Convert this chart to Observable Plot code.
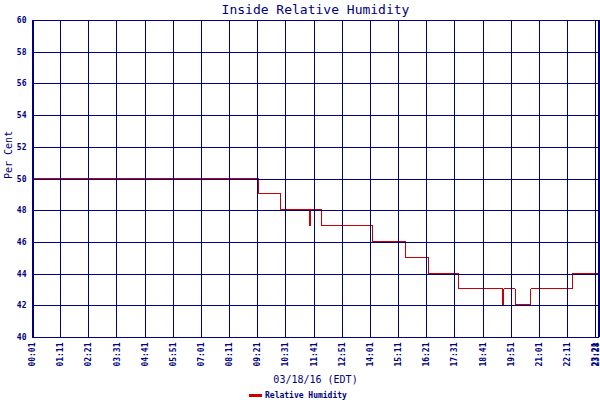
<!DOCTYPE html>
<html>
<head>
<meta charset="utf-8">
<script src="https://cdn.jsdelivr.net/npm/d3@7"></script>
<script src="https://cdn.jsdelivr.net/npm/@observablehq/plot@0.6"></script>
<style>
  html, body { margin: 0; padding: 0; background: #fff; }
  #chart svg { shape-rendering: crispEdges; }
  #chart svg text { shape-rendering: auto; }
</style>
</head>
<body>
<div id="chart"></div>
<script>
// ---- Data ----
const times  = ["00:01","09:22","10:18","11:30","11:33","12:00","14:07","15:27","16:25","17:41","19:30","19:33","20:01","20:40","22:24","23:28"];
const values = [50, 49, 48, 47, 48, 47, 46, 45, 44, 43, 42, 43, 42, 43, 44, 44];

const xTickLabels = ["00:01","01:11","02:21","03:31","04:41","05:51","07:01","08:11","09:21","10:31","11:41","12:51","14:01","15:11","16:21","17:31","18:41","19:51","21:01","22:11","23:21"];
const xEndLabel = "23:28";
const yTicks = [40, 42, 44, 46, 48, 50, 52, 54, 56, 58, 60];

const title = "Inside Relative Humidity";
const yLabel = "Per Cent";
const xLabel = "03/18/16 (EDT)";
const seriesName = "Relative Humidity";

// ---- Helpers ----
const toMin = s => { const [h, m] = s.split(":").map(Number); return h * 60 + m; };
const fmt = m => String(Math.floor(m / 60)).padStart(2, "0") + ":" + String(m % 60).padStart(2, "0");

const data = times.map((t, i) => ({t: toMin(t), v: values[i]}));
const xTicks = xTickLabels.map(toMin);
const xEnd = toMin(xEndLabel);
const xDomain = [xTicks[0], xEnd];

const navy = "#000080";
const red = "#c80000";

const tickStyle = {tickSize: 0, tickPadding: 5, tickRotate: -90, tickFormat: fmt, fontSize: 8, fontWeight: "bold", fill: navy, label: null};

const chart = Plot.plot({
  width: 600,
  height: 400,
  marginLeft: 32,
  marginRight: 2,
  marginTop: 20,
  marginBottom: 63,
  style: {fontFamily: "'DejaVu Sans Mono', monospace", color: navy, background: "white"},
  x: {type: "linear", domain: xDomain},
  y: {domain: [40, 60]},
  marks: [
    Plot.line(data, {x: "t", y: "v", curve: "step-after", stroke: red, strokeWidth: 1, dy: -1}),
    Plot.gridX(xTicks, {stroke: navy, strokeOpacity: 1, strokeWidth: 1}),
    Plot.gridY(yTicks, {stroke: navy, strokeOpacity: 1, strokeWidth: 1}),
    Plot.axisX(xTicks, tickStyle),
    Plot.axisX([xEnd], {...tickStyle, dx: -2}),
    Plot.axisY(yTicks, {tickSize: 0, tickPadding: 6, fontSize: 8, fontWeight: "bold", fill: navy, label: null}),
    Plot.frame({stroke: navy, strokeWidth: 1}),
    Plot.ruleX([xDomain[0]], {stroke: navy, strokeWidth: 2, dx: 0.5}),
    Plot.ruleX([xDomain[1]], {stroke: navy, strokeWidth: 2}),
    Plot.text([title], {frameAnchor: "top", lineAnchor: "middle", dy: -11, fontSize: 13, fill: navy}),
    Plot.text([xLabel], {frameAnchor: "bottom", lineAnchor: "middle", dy: 42, fontSize: 10, fill: navy}),
    Plot.text([yLabel], {frameAnchor: "left", dx: -24, rotate: -90, fontSize: 10, fill: navy})
  ]
});

// legend
const svg = d3.select(chart);
const lg = svg.append("g").attr("transform", "translate(249,395)");
lg.append("line").attr("x1", 0).attr("x2", 13).attr("y1", 0).attr("y2", 0)
  .attr("stroke", red).attr("stroke-width", 3);
lg.append("text").attr("x", 16).attr("y", 0).attr("dy", "0.32em")
  .attr("text-anchor", "start")
  .attr("fill", navy).attr("font-size", 8).attr("font-weight", "bold")
  .attr("font-family", "'DejaVu Sans Mono', monospace").text(seriesName);

document.getElementById("chart").appendChild(chart);
</script>
</body>
</html>
